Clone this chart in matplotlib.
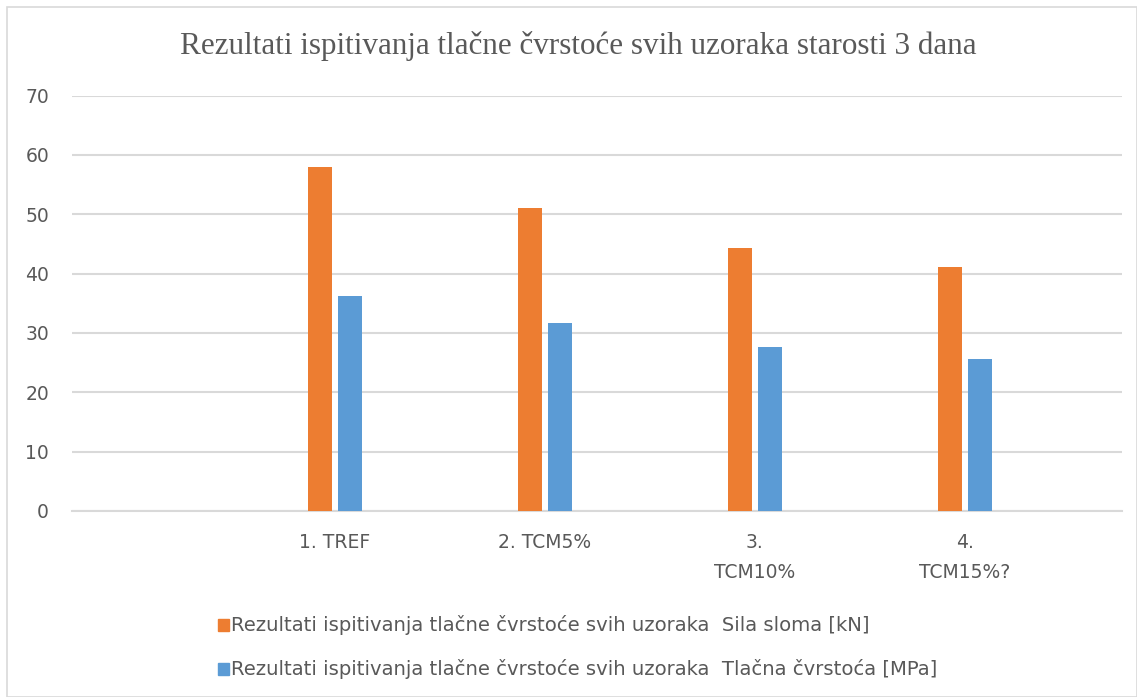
import matplotlib
matplotlib.use("Agg")
from matplotlib import pyplot as plt
import matplotlib.patches as patches
import numpy as np

# data
categories = ["1. TREF", "2. TCM5%", "3.\nTCM10%", "4.\nTCM15%?"]
sila_sloma = [57.9, 51.0, 44.3, 41.1]        # kN
tlacna_cvrstoca = [36.3, 31.7, 27.7, 25.6]  # MPa
series_labels = [
    "Rezultati ispitivanja tlačne čvrstoće svih uzoraka  Sila sloma [kN]",
    "Rezultati ispitivanja tlačne čvrstoće svih uzoraka  Tlačna čvrstoća [MPa]",
]
title = "Rezultati ispitivanja tlačne čvrstoće svih uzoraka starosti 3 dana"

orange = "#ed7d31"
blue = "#5b9bd5"
grid_c = "#d9d9d9"
text_c = "#595959"

W, H = 1137, 697
fig = plt.figure(figsize=(W / 100, H / 100), dpi=100)

# outer chart frame
fig.add_artist(patches.Rectangle((7 / W, 0), 1 - 7 / W, 1 - 7 / H, transform=fig.transFigure,
                                 fill=False, edgecolor=grid_c, linewidth=1.2))

ax = fig.add_axes([72 / W, 1 - 511 / H, (1122 - 72) / W, (511 - 95.5) / H])

x = np.arange(len(categories))
bw = 0.115
ax.bar(x - 0.07, sila_sloma, bw, color=orange, zorder=3)
ax.bar(x + 0.07, tlacna_cvrstoca, bw, color=blue, zorder=3)

ax.set_xlim(-1.252, 3.748)
ax.set_ylim(0, 70)
ax.set_yticks(range(0, 71, 10))
ax.yaxis.grid(True, color=grid_c, linewidth=1.5, zorder=0)
ax.set_axisbelow(True)
for s in ["top", "right", "left"]:
    ax.spines[s].set_visible(False)
ax.spines["bottom"].set_color(grid_c)
ax.spines["bottom"].set_linewidth(1.5)
ax.tick_params(axis="both", length=0, colors=text_c, labelsize=13.5)
ax.tick_params(axis="y", pad=16.5)
ax.tick_params(axis="x", pad=16)
ax.set_xticks(x)
ax.set_xticklabels(categories, fontsize=13.5, linespacing=1.75)

fig.text(578 / W, 1 - 46 / H, title, ha="center", va="center", fontsize=22.4,
         color=text_c, family=["Liberation Serif", "DejaVu Serif"])

# legend
for i, (lab, c) in enumerate(zip(series_labels, [orange, blue])):
    yc = 625 + i * 44
    fig.add_artist(patches.Rectangle((218 / W, 1 - (yc + 6) / H), 11 / W, 12 / H,
                                     transform=fig.transFigure, color=c))
    fig.text(231 / W, 1 - yc / H, lab, ha="left", va="center", fontsize=14.1,
             color=text_c, family=["DejaVu Sans"])

fig.savefig("out.png", dpi=100)
